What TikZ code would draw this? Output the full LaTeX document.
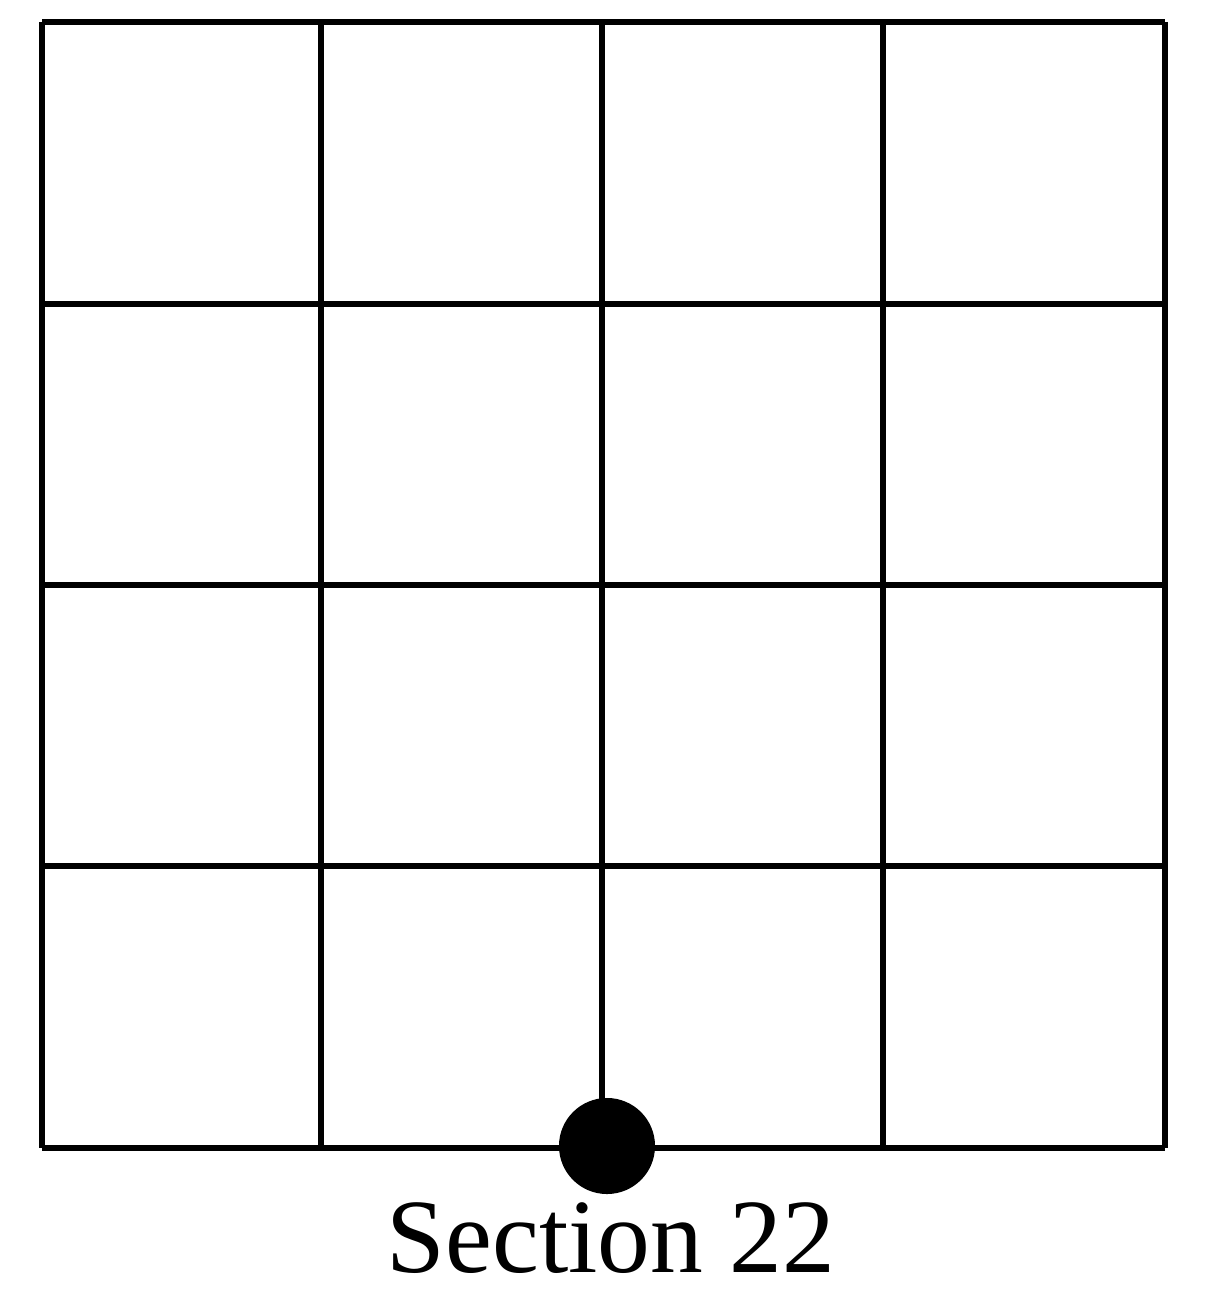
\documentclass[tikz,border=0pt]{standalone}
\usepackage{fontspec}
\setmainfont{Liberation Serif}
\begin{document}
\begin{tikzpicture}[x=0.01cm,y=-0.01cm,
  gridline/.style={line width=1.6pt,black},
  dotstyle/.style={circle,fill=black,inner sep=0pt,minimum size=0.96cm},
  labelstyle/.style={font=\fontsize{30}{36}\selectfont,inner sep=0pt}]
\useasboundingbox (0,0) rectangle (1207,1299);
\foreach \x in {42,321,602,883,1165} \draw[gridline] (\x,22) -- (\x,1148);
\foreach \y in {22,304,585,866,1148} \draw[gridline] (42,\y) -- (1165,\y);
\node[dotstyle] (dot) at (607,1146) {};
\node[labelstyle,anchor=base] (lbl) at (611,1272) {Section 22};
\end{tikzpicture}
\end{document}
